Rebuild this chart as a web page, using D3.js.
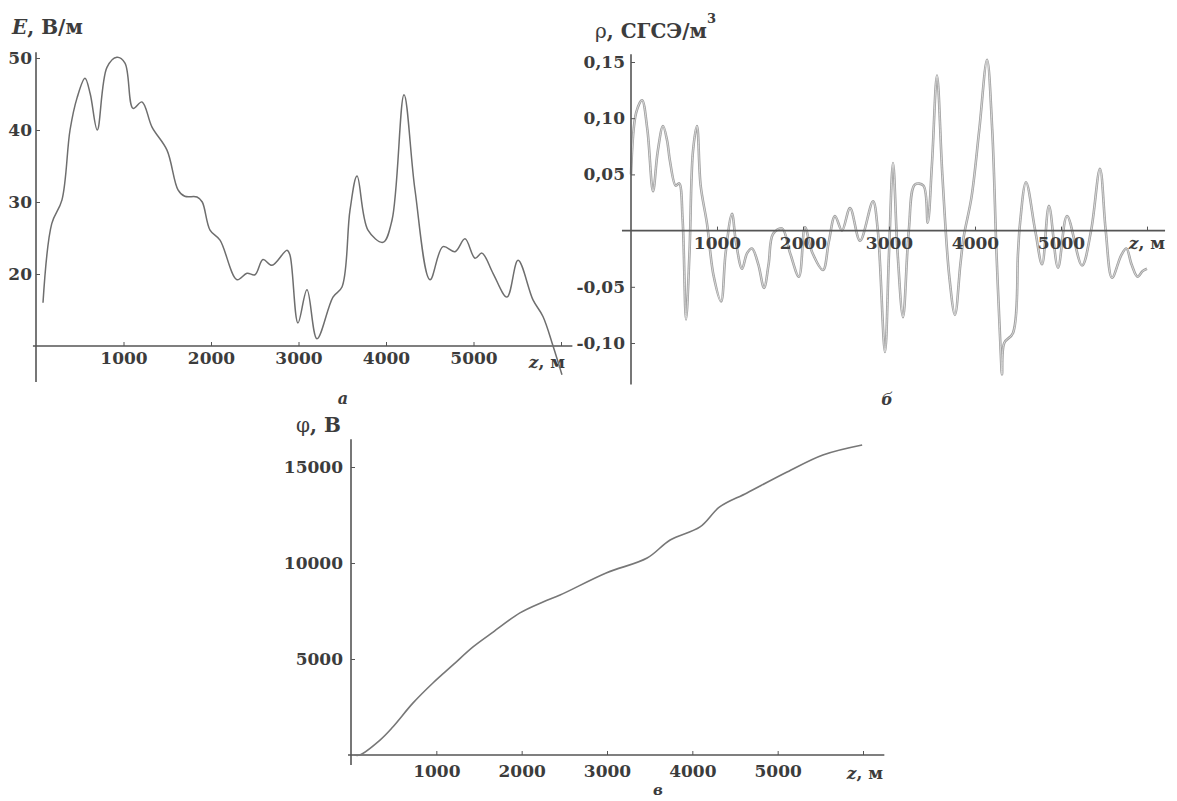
<!DOCTYPE html>
<html>
<head>
<meta charset="utf-8">
<script src="https://cdnjs.cloudflare.com/ajax/libs/d3/7.8.5/d3.min.js"></script>
<style>
  body { margin: 0; background: #fff; }
  svg text { font-family: "DejaVu Serif", serif; font-weight: bold; fill: #3c3c3c; font-size: 17px; }
</style>
</head>
<body>
<div id="grafico"></div>
<script>
// панель а: напряжённость поля E (В/м) по высоте z (м)
const Z_A = [80, 180, 297, 389, 470, 560, 620, 700, 811, 925, 1017, 1109, 1211, 1326, 1497, 1623, 1700, 1840, 1900,
  1989, 2103, 2297, 2411, 2503, 2594, 2697, 2869, 2903, 2994, 3097, 3211, 3394, 3497, 3589, 3669, 3794, 3966, 4069,
  4206, 4331, 4503, 4651, 4789, 4903, 5017, 5097, 5223, 5383, 5509, 5680, 5794, 5909, 6011];
const E_A = [16, 27, 30.3, 40, 44.5, 47.2, 45, 40, 48.7, 50.1, 49.3, 43, 43.9, 40.4, 37.2, 31.7, 30.8, 30.7, 30,
  26.1, 24.7, 19.2, 20.1, 19.9, 22, 21.2, 23.3, 22.6, 13.2, 17.8, 11, 16.8, 18.2, 28.9, 33.6, 26.1, 24.4, 27.5,
  44.9, 31.7, 19.2, 23.8, 23.1, 24.9, 22.2, 22.9, 20.1, 16.8, 21.9, 16.4, 14.1, 10, 6];

// панель б: плотность заряда ρ (СГСЭ/м³)
const Z_B = [0, 60, 128, 190, 256, 310, 372, 420, 453, 520, 560, 600, 640, 680, 720, 767, 810, 884, 960, 1047,
  1100, 1174, 1220, 1291, 1350, 1407, 1480, 1547, 1600, 1651, 1756, 1850, 1953, 2023, 2105, 2233, 2300, 2372,
  2453, 2547, 2663, 2814, 2870, 2953, 3000, 3047, 3100, 3163, 3230, 3302, 3400, 3450, 3500, 3558, 3620, 3700,
  3767, 3830, 3870, 3960, 4050, 4140, 4200, 4250, 4300, 4314, 4340, 4442, 4500, 4523, 4593, 4700, 4780, 4860,
  4965, 5070, 5244, 5350, 5453, 5520, 5593, 5700, 5760, 5820, 5890, 5950, 6000];
const RHO_B = [0.05, 0.105, 0.116, 0.09, 0.035, 0.07, 0.093, 0.08, 0.062, 0.04, 0.042, 0.01, -0.079, -0.02, 0.07,
  0.093, 0.04, 0.006, -0.04, -0.063, -0.02, 0.015, -0.01, -0.034, -0.02, -0.016, -0.03, -0.051, -0.03, -0.003,
  0.002, -0.02, -0.041, 0.003, -0.019, -0.035, -0.01, 0.013, 0, 0.02, -0.009, 0.026, 0, -0.108, -0.02, 0.06,
  -0.02, -0.077, 0, 0.041, 0.04, 0.007, 0.06, 0.138, 0.05, -0.04, -0.075, -0.03, -0.005, 0.03, 0.09, 0.152, 0.09,
  -0.02, -0.11, -0.128, -0.1, -0.091, -0.02, 0.006, 0.043, 0, -0.03, 0.022, -0.033, 0.013, -0.031, 0, 0.055, 0,
  -0.042, -0.022, -0.016, -0.03, -0.041, -0.036, -0.034];

// панель в: потенциал φ (В)
const Z_C = [40, 100, 340, 490, 725, 960, 1195, 1430, 1665, 1980, 2250, 2450, 2990, 3470, 3740, 4090, 4320, 4640,
  5110, 5530, 5990];
const PHI_C = [0, 0, 780, 1460, 2700, 3750, 4690, 5630, 6400, 7400, 7970, 8330, 9480, 10260, 11200, 11880, 12920,
  13650, 14740, 15630, 16150];

// марки осей
const Z_TICKS = [1000, 2000, 3000, 4000, 5000, 6000];
const E_TICKS = [20, 30, 40, 50];
const RHO_TICKS = [-0.10, -0.05, 0.05, 0.10, 0.15];
const PHI_TICKS = [5000, 10000, 15000];

const WIDTH = 1177;
const HEIGHT = 801;
const AXIS_COLOR = "#555";

const SVG = d3.select("#grafico").append("svg").attr("width", WIDTH).attr("height", HEIGHT);

const ruLocale = d3.formatLocale({decimal: ",", thousands: "", grouping: [3], currency: ["", ""], minus: "-"});

// dibuja los dos ejes cruzados, un poco más largos que el dominio
function ejes(x, y, o) {
  const g = SVG.append("g");
  const y0 = y.domain()[0];

  g.append("line")
    .attr("x1", x(o.xDesde)).attr("x2", x(o.xHasta))
    .attr("y1", y(y0)).attr("y2", y(y0))
    .attr("stroke", AXIS_COLOR).attr("stroke-width", 1.6);
  g.append("line")
    .attr("x1", x(0)).attr("x2", x(0))
    .attr("y1", y(o.yDesde)).attr("y2", y(o.yHasta))
    .attr("stroke", AXIS_COLOR).attr("stroke-width", 1.6);

  const ejeX = d3.axisBottom(x).tickValues(Z_TICKS).tickSize(-4).tickPadding(o.padX)
    .tickFormat(d => d === 6000 ? "" : d);
  g.append("g")
    .attr("transform", "translate(0," + y(y0) + ")")
    .attr("color", AXIS_COLOR)
    .call(ejeX)
    .call(s => s.select(".domain").remove());

  const ejeY = d3.axisLeft(y).tickValues(o.yTicks).tickSize(-4).tickPadding(o.padY).tickFormat(o.fmtY);
  g.append("g")
    .attr("transform", "translate(" + x(0) + ",0)")
    .attr("color", AXIS_COLOR)
    .call(ejeY)
    .call(s => s.select(".domain").remove());

  // подпись "z, м" на месте марки 6000
  const zl = g.append("text")
    .attr("x", x(6000) + o.zDx).attr("y", y(y0) + o.zDy)
    .attr("text-anchor", "middle");
  zl.append("tspan").attr("font-style", "italic").text("z");
  zl.append("tspan").text(", м");
}

// ---------- а ----------
const xA = d3.scaleLinear().domain([0, 6000]).range([36, 561]);
const yA = d3.scaleLinear().domain([10, 50]).range([346, 58]);
ejes(xA, yA, {xDesde: -35, xHasta: 6130, yDesde: 5, yHasta: 50.8, yTicks: E_TICKS,
  padX: 6, padY: 4, fmtY: d3.format("d"), zDx: -14, zDy: 22});

SVG.append("path")
  .datum(d3.zip(Z_A, E_A))
  .attr("fill", "none").attr("stroke", "#6e6e6e").attr("stroke-width", 1.5)
  .attr("d", d3.line().x(d => xA(d[0])).y(d => yA(d[1])).curve(d3.curveCatmullRom));

const tA = SVG.append("text").attr("x", 12).attr("y", 34).style("font-size", "20px");
tA.append("tspan").attr("font-style", "italic").text("E");
tA.append("tspan").text(", В/м");

SVG.append("text").attr("x", 343).attr("y", 404).attr("text-anchor", "middle")
  .attr("font-style", "italic").style("font-size", "16px").text("а");

// ---------- б ----------
const xB = d3.scaleLinear().domain([0, 6000]).range([631, 1147]);
const yB = d3.scaleLinear().domain([-0.10, 0.15]).range([343, 62]);

SVG.append("path")
  .datum(d3.zip(Z_B, RHO_B))
  .attr("fill", "none").attr("stroke", "#a0a0a0").attr("stroke-width", 2.6)
  .attr("d", d3.line().x(d => xB(d[0])).y(d => yB(d[1])).curve(d3.curveCatmullRom));
SVG.append("path")
  .datum(d3.zip(Z_B, RHO_B))
  .attr("fill", "none").attr("stroke", "#e4e4e4").attr("stroke-width", 0.8)
  .attr("d", d3.line().x(d => xB(d[0])).y(d => yB(d[1])).curve(d3.curveCatmullRom));

// eje x en ρ = 0
const gB = SVG.append("g");
gB.append("line")
  .attr("x1", xB(-105)).attr("x2", xB(6210)).attr("y1", yB(0)).attr("y2", yB(0))
  .attr("stroke", AXIS_COLOR).attr("stroke-width", 1.6);
gB.append("line")
  .attr("x1", xB(0)).attr("x2", xB(0)).attr("y1", yB(0.157)).attr("y2", yB(-0.137))
  .attr("stroke", AXIS_COLOR).attr("stroke-width", 1.6);
gB.append("g")
  .attr("transform", "translate(0," + yB(0) + ")")
  .attr("color", AXIS_COLOR)
  .call(d3.axisBottom(xB).tickValues(Z_TICKS).tickSize(-4).tickPadding(6).tickFormat(d => d === 6000 ? "" : d))
  .call(s => s.select(".domain").remove());
gB.append("g")
  .attr("transform", "translate(" + xB(0) + ",0)")
  .attr("color", AXIS_COLOR)
  .call(d3.axisLeft(yB).tickValues(RHO_TICKS).tickSize(-4).tickPadding(6).tickFormat(ruLocale.format(".2f")))
  .call(s => s.select(".domain").remove());
const zB = gB.append("text").attr("x", xB(6000)).attr("y", yB(0) + 18).attr("text-anchor", "middle");
zB.append("tspan").attr("font-style", "italic").text("z");
zB.append("tspan").text(", м");

const tB = SVG.append("text").attr("x", 595).attr("y", 38).style("font-size", "20px");
tB.append("tspan").attr("font-weight", "normal").text("ρ");
tB.append("tspan").text(", СГСЭ/м");
tB.append("tspan").attr("dy", -15).style("font-size", "13px").text("3");

SVG.append("text").attr("x", 887).attr("y", 405).attr("text-anchor", "middle")
  .attr("font-style", "italic").style("font-size", "16px").text("б");

// ---------- в ----------
const xC = d3.scaleLinear().domain([0, 6000]).range([351, 863]);
const yC = d3.scaleLinear().domain([0, 15000]).range([755, 467]);
ejes(xC, yC, {xDesde: -35, xHasta: 6250, yDesde: -520, yHasta: 16450, yTicks: PHI_TICKS,
  padX: 10, padY: 8, fmtY: d3.format("d"), zDx: 2, zDy: 24});

SVG.append("path")
  .datum(d3.zip(Z_C, PHI_C))
  .attr("fill", "none").attr("stroke", "#777").attr("stroke-width", 1.6)
  .attr("d", d3.line().x(d => xC(d[0])).y(d => yC(d[1])).curve(d3.curveCatmullRom));

const tC = SVG.append("text").attr("x", 296).attr("y", 432).style("font-size", "20px");
tC.append("tspan").attr("font-weight", "normal").text("φ");
tC.append("tspan").text(", В");

SVG.append("text").attr("x", 658).attr("y", 795).attr("text-anchor", "middle")
  .attr("font-style", "italic").style("font-size", "15px").text("в");
</script>
</body>
</html>
